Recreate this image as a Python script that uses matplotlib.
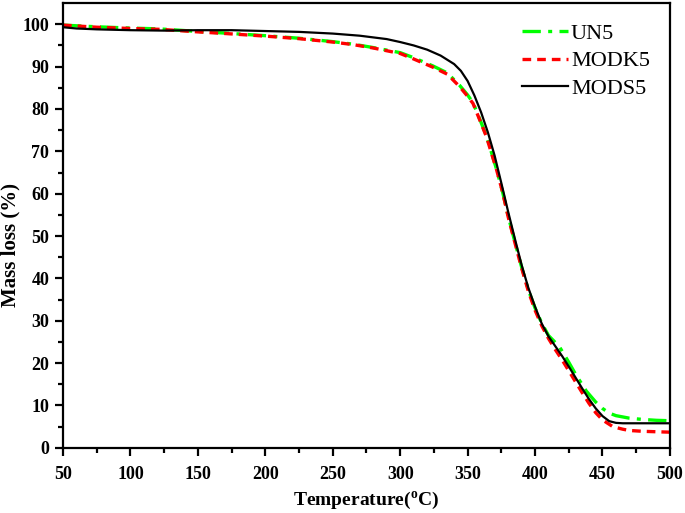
import matplotlib
matplotlib.use("Agg")
import matplotlib.pyplot as plt

# font setup: bold Times-like everywhere
plt.rcParams['font.family'] = 'Liberation Serif'
plt.rcParams['mathtext.fontset'] = 'custom'
plt.rcParams['mathtext.rm'] = 'Liberation Serif:bold'
plt.rcParams['mathtext.it'] = 'Liberation Serif:bold'

# UN5 (green, dash-dot)
temp_un5 = [50, 75, 100, 122, 150, 171, 200, 225, 250, 265, 280, 300, 310, 324,
            335, 344, 350, 354, 359, 364, 371.5, 376, 380, 385, 390, 395, 400,
            405, 410, 418, 425, 430, 438, 445, 450, 455, 460, 470, 480, 490, 500]
mass_un5 = [99.8, 99.4, 99.1, 98.9, 98.3, 97.9, 97.3, 96.7, 95.9, 95.3, 94.5, 93.3,
            92.1, 90.2, 88.5, 85.6, 83.3, 81.5, 77.6, 73.6, 65.7, 60.3, 54.8, 48.7,
            42.7, 37.3, 33.0, 29.4, 26.5, 23.9, 20.2, 17.4, 13.4, 10.8, 9.3, 8.2,
            7.6, 7.0, 6.7, 6.5, 6.4]

# MODK5 (red, dashed)
temp_modk5 = [50, 75, 100, 122, 150, 171, 200, 225, 250, 265, 280, 300, 310, 324,
              335, 344, 350, 354, 359, 364, 371.5, 376, 380, 385, 390, 395, 400,
              405, 410, 415, 420, 425, 430, 435, 440, 445, 450, 457.7, 465, 470,
              480, 490, 500]
mass_modk5 = [99.8, 99.3, 99.0, 98.8, 98.2, 97.8, 97.2, 96.6, 95.8, 95.2, 94.4, 93.1,
              91.8, 89.9, 88.2, 85.3, 83.0, 81.3, 77.4, 73.4, 65.6, 60.3, 54.6, 48.5,
              42.5, 37.0, 32.5, 28.8, 25.8, 23.2, 20.8, 18.2, 15.6, 13.0, 10.5, 8.3,
              6.6, 5.0, 4.4, 4.1, 3.9, 3.8, 3.7]

# MODS5 (black, solid)
temp_mods5 = [50, 60, 75, 100, 125, 150, 175, 200, 225, 250, 270, 290, 300, 310,
              320, 330, 340, 345, 350, 355, 360, 365, 370, 375, 380, 385, 390, 395,
              400, 405, 410, 415, 420, 425, 430, 435, 440, 445, 450, 455, 460, 465,
              500]
mass_mods5 = [99.3, 99.0, 98.8, 98.6, 98.5, 98.6, 98.6, 98.4, 98.2, 97.8, 97.3, 96.5,
              95.8, 95.0, 94.0, 92.6, 90.6, 89.0, 86.6, 83.2, 79.2, 74.5, 69.0, 62.5,
              55.8, 49.4, 43.2, 37.8, 33.3, 29.3, 26.3, 24.0, 21.7, 19.2, 16.6, 14.0,
              11.5, 9.3, 7.5, 6.3, 5.9, 5.8, 5.8]

fig = plt.figure(figsize=(6.85, 5.13), dpi=100)
ax = fig.add_axes([0.092, 0.127, 0.886, 0.867])

ax.plot(temp_un5, mass_un5, color='#00ff00', lw=2.4,
        dashes=(5.5, 2.2, 1.2, 2.2), label='UN5')
ax.plot(temp_modk5, mass_modk5, color='#ff0000', lw=2.4,
        dashes=(2.6, 1.8), label='MODK5')
ax.plot(temp_mods5, mass_mods5, color='black', lw=1.6, label='MODS5')

ax.set_xlim(50, 500)
ax.set_ylim(0, 105)
ax.set_xticks(range(50, 501, 50))
ax.set_xticks(range(75, 500, 50), minor=True)
ax.set_yticks(range(0, 101, 10))
ax.set_yticks(range(5, 101, 10), minor=True)

for s in ax.spines.values():
    s.set_linewidth(1.6)
ax.tick_params(which='major', length=6, width=1.6, direction='out',
               labelsize=13)
ax.tick_params(axis='x', which='major', pad=7)
ax.tick_params(axis='y', which='major', pad=4)
ax.tick_params(which='minor', length=3.5, width=1.6, direction='out')
for lab in ax.get_xticklabels() + ax.get_yticklabels():
    lab.set_fontweight('bold')

ax.set_xlabel(r'Temperature($^{\rm o}$C)', fontsize=14, fontweight='bold', labelpad=5)
ax.set_ylabel('Mass loss (%)', fontsize=15, fontweight='bold')
ax.yaxis.set_label_coords(-0.07, 0.456)

ax.legend(loc='upper right', frameon=False, fontsize=16, handlelength=2.05,
          handletextpad=0.15, labelspacing=0.32, borderaxespad=0.5,
          bbox_to_anchor=(1.0, 1.0))

fig.savefig('out.png', dpi=100)
